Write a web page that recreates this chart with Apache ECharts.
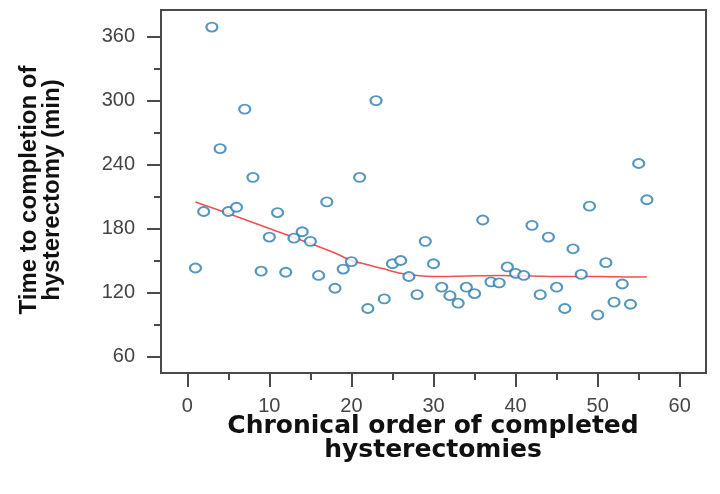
<!DOCTYPE html>
<html><head><meta charset="utf-8">
<script src="https://cdn.jsdelivr.net/npm/echarts@6/dist/echarts.min.js"></script>
<style>html,body{margin:0;padding:0;background:#fff}#c{width:720px;height:494px}</style>
</head><body><div id="c"></div>
<script>
// Order of hysterectomy (x) and time to completion in minutes (y)
const orderNo = [1,2,3,4,5,6,7,8,9,10,11,12,13,14,15,16,17,18,19,20,21,22,23,24,25,26,27,28,29,30,31,32,33,34,35,36,37,38,39,40,41,42,43,44,45,46,47,48,49,50,51,52,53,54,55,56];
const timeMin = [143,196,369,255,196,200,292,228,140,172,195,139,171,177,168,136,205,124,142,149,228,105,300,114,147,150,135,118,168,147,125,117,110,125,119,188,130,129,144,138,136,183,118,172,125,105,161,137,201,99,148,111,128,109,241,207];
// Smoothed (loess) fit line
const fitX = [1,5,10,15,18,20,22,24,26,28,30,34,38,42,46,50,54,56];
const fitY = [205,194,180,166,157,150,146,142,138,136,135,135.5,136,135.5,135,135,134.5,134.5];
// Axis tick labels
const xTicks = [0,10,20,30,40,50,60];
const xMinorTicks = [5,15,25,35,45,55];
const yTicks = [60,120,180,240,300,360];
const yMinorTicks = [90,150,210,270,330];

const chart = echarts.init(document.getElementById('c'), null, {renderer:'canvas'});
const axisCol = '#4a4a4a';
const lblStyle = {color:'#444', fontFamily:'Liberation Sans, Arial, sans-serif', fontSize:20};
const xMin = -3.2, xMax = 63.2, yMin = 44.5, yMax = 385;

chart.setOption({
  animation:false,
  grid:{left:161, top:10, right:14, bottom:121, show:true, borderColor:axisCol, borderWidth:2, backgroundColor:'#fff'},
  xAxis:[
    {type:'value', min:xMin, max:xMax, position:'bottom',
     axisLine:{show:true, onZero:false, lineStyle:{color:axisCol, width:2}},
     axisTick:{show:true, length:14, customValues:xTicks, lineStyle:{color:axisCol, width:2}},
     axisLabel:{show:true, customValues:xTicks, margin:23, ...lblStyle},
     splitLine:{show:false}},
    {type:'value', min:xMin, max:xMax, position:'bottom',
     axisLine:{show:false, onZero:false},
     axisTick:{show:true, length:7, customValues:xMinorTicks, lineStyle:{color:axisCol, width:2}},
     axisLabel:{show:false}, splitLine:{show:false}}
  ],
  yAxis:[
    {type:'value', min:yMin, max:yMax, position:'left',
     axisLine:{show:true, onZero:false, lineStyle:{color:axisCol, width:2}},
     axisTick:{show:true, length:14, customValues:yTicks, lineStyle:{color:axisCol, width:2}},
     axisLabel:{show:true, customValues:yTicks, margin:26, ...lblStyle},
     splitLine:{show:false}},
    {type:'value', min:yMin, max:yMax, position:'left',
     axisLine:{show:false, onZero:false},
     axisTick:{show:true, length:7, customValues:yMinorTicks, lineStyle:{color:axisCol, width:2}},
     axisLabel:{show:false}, splitLine:{show:false}}
  ],
  series:[
    {type:'line', xAxisIndex:0, yAxisIndex:0, data:fitX.map((x,i)=>[x,fitY[i]]),
     showSymbol:false, smooth:0.3, lineStyle:{color:'#f25050', width:1.6}, z:3},
    {type:'scatter', xAxisIndex:0, yAxisIndex:0, data:orderNo.map((x,i)=>[x,timeMin[i]]),
     symbol:'emptyCircle', symbolSize:[11,9],
     itemStyle:{color:'#2a7cae', borderColor:'#2a7cae', borderWidth:2.2}, z:4}
  ],
  graphic:[
    {type:'text', x:41, y:190, rotation:Math.PI/2,
     style:{text:'Time to completion of\nhysterectomy (min)', fill:'#111', font:'bold 24px "Liberation Sans", Arial, sans-serif',
            align:'center', verticalAlign:'middle', lineHeight:23}},
    {type:'text', x:433, y:438,
     style:{text:'Chronical order of completed\nhysterectomies', fill:'#111', font:'bold 25px "DejaVu Sans", Verdana, sans-serif',
            align:'center', verticalAlign:'middle', lineHeight:24}}
  ]
});
</script></body></html>
